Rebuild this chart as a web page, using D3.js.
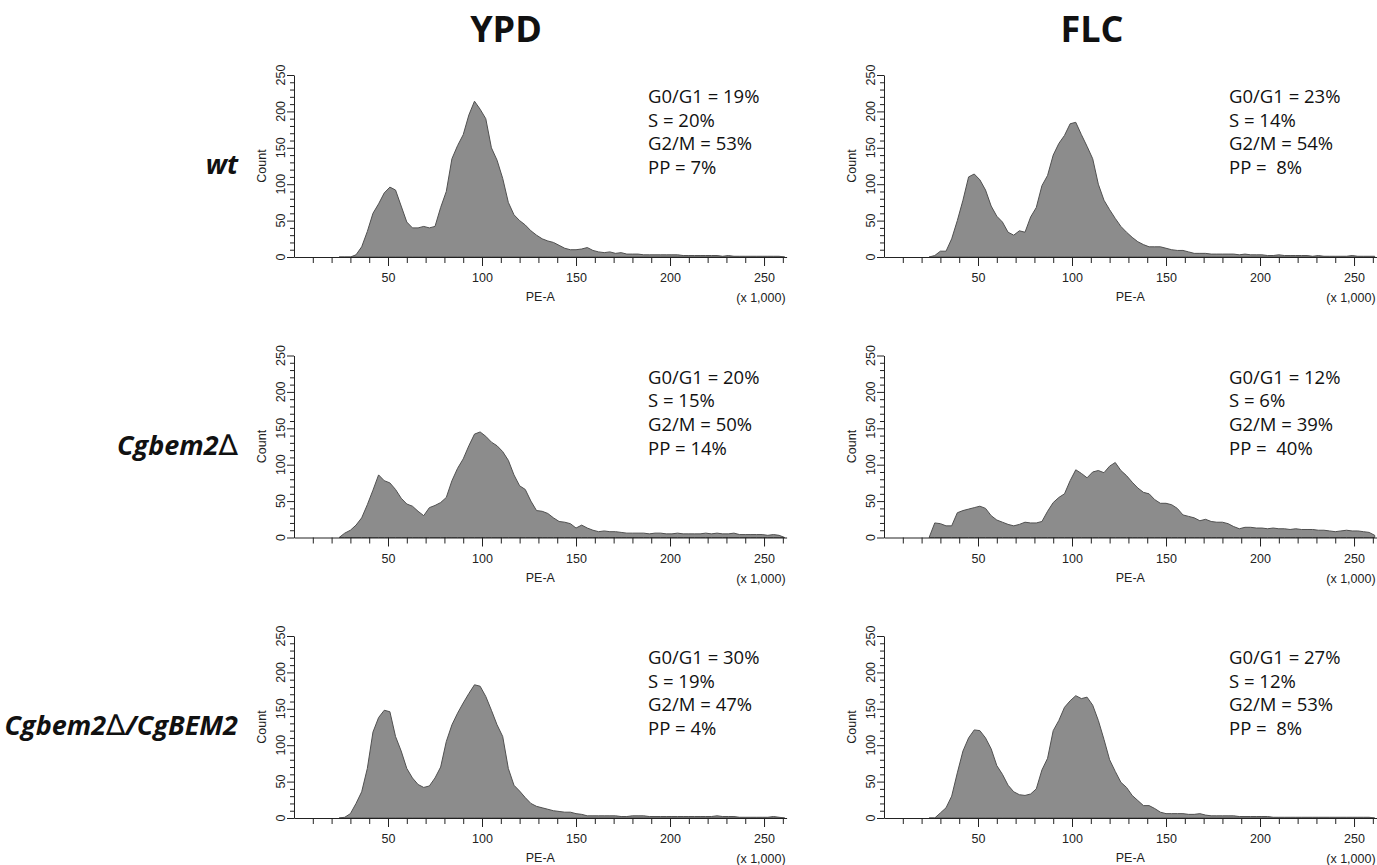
<!DOCTYPE html>
<html><head><meta charset="utf-8">
<script src="https://cdn.jsdelivr.net/npm/d3@7"></script>
<style>body{margin:0;background:#fff;} svg{display:block;}</style>
</head><body>
<svg id="chart" width="1377" height="865"></svg>
<script>
// ---------- DATA ----------
const conditions = ["YPD", "FLC"];
const strains = ["wt", "Cgbem2Δ", "Cgbem2Δ/CgBEM2"];

// PE-A bin centres (x 1,000)
const binCenters = [
  24,27,30,33,36,39,42,45,48,51,
  54,57,60,63,66,69,72,75,78,81,
  84,87,90,93,96,99,102,105,108,111,
  114,117,120,123,126,129,132,135,138,141,
  144,147,150,153,156,159,162,165,168,171,
  174,177,180,183,186,189,192,195,198,201,
  204,207,210,213,216,219,222,225,228,231,
  234,237,240,243,246,249,252,255,258,261
];

const countsYpdWt = [
  0,0,0,3,14,35,60,73,88,96,
  92,70,48,40,40,42,40,42,68,90,
  135,153,168,195,214,203,190,150,133,108,
  75,58,50,44,36,30,25,22,20,16,
  12,10,10,11,13,9,7,6,7,5,
  6,4,4,4,3,3,3,3,3,3,
  3,2,2,2,2,2,2,2,1,2,
  1,1,1,1,1,1,1,1,1,0
];
const countsFlcWt = [
  0,2,8,8,25,50,78,110,114,106,
  92,70,56,48,34,30,36,34,55,68,
  98,112,140,156,167,183,185,168,152,135,
  100,78,65,53,42,34,27,21,17,14,
  14,14,12,10,9,9,7,5,5,5,
  4,4,4,4,4,3,4,3,3,3,
  2,2,3,2,2,2,2,2,1,2,
  1,1,1,1,1,2,1,1,1,1
];
const countsYpdDel = [
  0,6,10,17,27,45,65,86,78,75,
  66,54,46,43,36,30,41,44,48,55,
  78,95,108,126,142,145,139,131,126,118,
  106,86,71,66,50,37,36,33,27,22,
  21,19,13,17,13,10,8,9,8,8,
  7,6,6,6,6,5,6,6,5,5,
  6,5,5,5,5,6,5,6,5,5,
  6,4,4,4,4,4,3,4,3,0
];
const countsFlcDel = [
  0,20,19,16,16,34,37,39,41,43,
  40,30,24,21,18,16,18,21,20,20,
  22,36,48,55,60,78,93,88,82,90,
  92,89,98,103,92,85,76,68,62,60,
  52,47,47,45,40,31,29,27,23,25,
  22,21,21,19,15,12,14,14,13,13,
  12,13,12,12,11,12,11,11,11,10,
  10,9,8,9,10,9,9,8,7,3
];
const countsYpdRes = [
  0,1,6,20,36,68,118,138,148,146,
  112,92,68,55,46,42,44,55,70,105,
  128,144,158,171,183,181,167,148,128,112,
  68,45,37,28,20,16,14,12,10,9,
  8,8,6,5,3,3,3,3,3,3,
  2,2,3,3,3,2,2,2,2,2,
  2,2,2,2,2,2,2,3,2,2,
  2,1,1,1,1,1,1,2,1,0
];
const countsFlcRes = [
  0,0,7,14,30,62,92,110,121,120,
  110,95,72,60,45,36,32,31,33,40,
  66,82,120,134,152,161,168,164,166,155,
  134,108,80,64,49,42,31,24,17,17,
  13,8,6,6,6,6,5,5,6,4,
  3,3,3,3,3,2,2,2,2,2,
  2,1,1,1,1,1,1,1,1,1,
  1,1,1,1,1,1,1,1,1,0
];

const statsYpdWt  = ["G0/G1 = 19%", "S = 20%", "G2/M = 53%", "PP = 7%"];
const statsFlcWt  = ["G0/G1 = 23%", "S = 14%", "G2/M = 54%", "PP =  8%"];
const statsYpdDel = ["G0/G1 = 20%", "S = 15%", "G2/M = 50%", "PP = 14%"];
const statsFlcDel = ["G0/G1 = 12%", "S = 6%",  "G2/M = 39%", "PP =  40%"];
const statsYpdRes = ["G0/G1 = 30%", "S = 19%", "G2/M = 47%", "PP = 4%"];
const statsFlcRes = ["G0/G1 = 27%", "S = 12%", "G2/M = 53%", "PP =  8%"];

const xTickLabels = [50, 100, 150, 200, 250];
const yTickLabels = [0, 50, 100, 150, 200, 250];

// ---------- LAYOUT ----------
const panels = [
  {row:0, col:0, counts:countsYpdWt,  stats:statsYpdWt},
  {row:0, col:1, counts:countsFlcWt,  stats:statsFlcWt},
  {row:1, col:0, counts:countsYpdDel, stats:statsYpdDel},
  {row:1, col:1, counts:countsFlcDel, stats:statsFlcDel},
  {row:2, col:0, counts:countsYpdRes, stats:statsYpdRes},
  {row:2, col:1, counts:countsFlcRes, stats:statsFlcRes}
];
const colX0 = [294, 884];
const statsX = [648, 1229];
const rowBase = [257, 537.5, 818];
const plotW = 492.6, plotH = 182;
const titleX = [506, 1092];

const svg = d3.select("#chart");
const axisFont = "'Liberation Sans', Arial, sans-serif";
const textFont = "'Open Sans', 'Noto Sans', sans-serif";

// Column titles
conditions.forEach((c, i) => {
  svg.append("text").attr("x", titleX[i]).attr("y", 42)
    .attr("text-anchor", "middle").attr("font-family", textFont)
    .attr("font-weight", 700).attr("font-size", 36).attr("fill", "#111").text(c);
});

// Row labels
strains.forEach((s, i) => {
  const t = svg.append("text").attr("x", 238).attr("y", rowBase[i] - 83)
    .attr("text-anchor", "end").attr("font-family", textFont)
    .attr("font-weight", 700).attr("font-style", "italic")
    .attr("font-size", 27).attr("fill", "#111");
  const parts = s.split("Δ");
  parts.forEach((p, j) => {
    if (p) t.append("tspan").text(p);
    if (j < parts.length - 1) {
      t.append("tspan").attr("font-weight", 400).attr("font-style", "normal")
        .attr("font-family", "'DejaVu Sans', sans-serif").attr("font-size", 29).text("∆");
    }
  });
});

panels.forEach(p => {
  const x0 = colX0[p.col], base = rowBase[p.row];
  const x = d3.scaleLinear().domain([0, 262]).range([x0, x0 + plotW]);
  const y = d3.scaleLinear().domain([0, 250]).range([base, base - plotH]);
  const g = svg.append("g");

  // histogram area
  const data = binCenters.map((b, i) => [b, p.counts[i]]);
  const area = d3.area().x(d => x(d[0])).y0(y(0)).y1(d => y(d[1])).curve(d3.curveLinear);
  g.append("path").datum(data).attr("d", area)
    .attr("fill", "#8c8c8c").attr("stroke", "#505050").attr("stroke-width", 1);

  // x axis: minor & major ticks
  const minorX = d3.range(10, 262, 10).filter(v => v % 50 !== 0);
  const xMinor = g.append("g").attr("transform", `translate(0,${base})`)
    .call(d3.axisBottom(x).tickValues(minorX).tickSize(6).tickSizeOuter(0).tickFormat(""));
  const xMajor = g.append("g").attr("transform", `translate(0,${base})`)
    .call(d3.axisBottom(x).tickValues(xTickLabels).tickSize(9).tickSizeOuter(0).tickPadding(5));
  xMajor.select(".domain").remove();
  [xMinor, xMajor].forEach(a => {
    a.selectAll("line").attr("stroke", "#222");
    a.selectAll(".domain").attr("stroke", "#222");
  });
  xMajor.selectAll("text").attr("font-family", axisFont).attr("font-size", 12.5)
    .attr("fill", "#222").attr("dy", "0.9em");

  // y axis
  const minorY = d3.range(0, 251, 10).filter(v => v % 50 !== 0);
  const yMinor = g.append("g").attr("transform", `translate(${x0},0)`)
    .call(d3.axisLeft(y).tickValues(minorY).tickSize(4).tickSizeOuter(0).tickFormat(""));
  const yMajor = g.append("g").attr("transform", `translate(${x0},0)`)
    .call(d3.axisLeft(y).tickValues(yTickLabels).tickSize(7).tickSizeOuter(0).tickFormat(""));
  yMajor.select(".domain").remove();
  [yMinor, yMajor].forEach(a => {
    a.selectAll("line").attr("stroke", "#222");
    a.selectAll(".domain").attr("stroke", "#222");
  });
  yTickLabels.forEach(v => {
    g.append("text").attr("transform", `translate(${x0 - 13},${y(v)}) rotate(-90)`)
      .attr("text-anchor", "middle").attr("dy", "0.35em")
      .attr("font-family", axisFont).attr("font-size", 12.5).attr("fill", "#222").text(v);
  });

  // axis titles
  g.append("text").attr("transform", `translate(${x0 - 32},${base - plotH / 2}) rotate(-90)`)
    .attr("text-anchor", "middle").attr("dy", "0.35em")
    .attr("font-family", axisFont).attr("font-size", 12.5).attr("fill", "#222").text("Count");
  g.append("text").attr("x", x0 + plotW / 2).attr("y", base + 44)
    .attr("text-anchor", "middle").attr("font-family", axisFont).attr("font-size", 12.5)
    .attr("fill", "#222").text("PE-A");
  g.append("text").attr("x", x0 + plotW - 1).attr("y", base + 45)
    .attr("text-anchor", "end").attr("font-family", axisFont).attr("font-size", 12.5)
    .attr("fill", "#222").text("(x 1,000)");

  // stats
  p.stats.forEach((s, i) => {
    g.append("text").attr("x", statsX[p.col]).attr("y", base - 154 + i * 23.7)
      .attr("font-family", textFont).attr("font-size", 18.5).attr("fill", "#111")
      .attr("xml:space", "preserve").style("white-space", "pre").text(s);
  });
});
</script>
</body></html>
